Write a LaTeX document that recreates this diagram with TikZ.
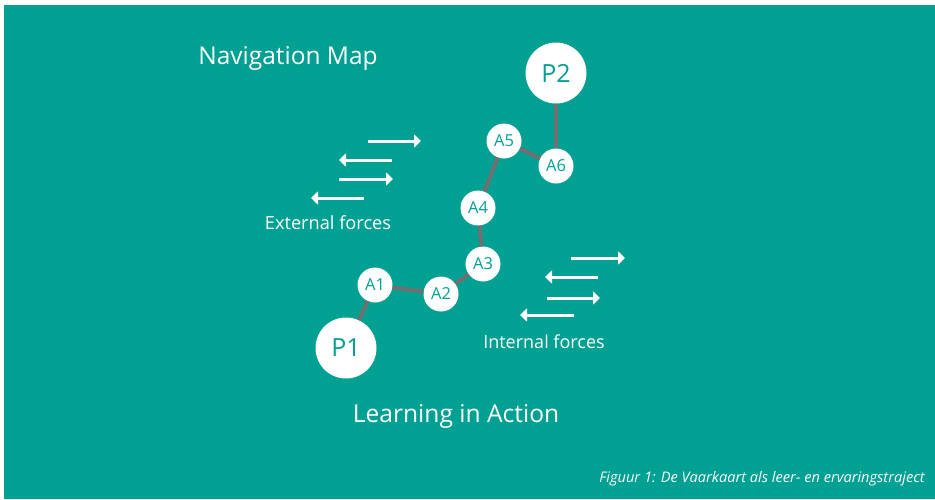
\documentclass[tikz,border=0pt]{standalone}
\usepackage{fontspec}
\setmainfont{Open Sans}
\usetikzlibrary{arrows.meta}
\definecolor{vaarteal}{RGB}{0,160,146}
\definecolor{routegray}{RGB}{112,112,112}

\begin{document}
\begin{tikzpicture}[x=1pt,y=-1pt]
\tikzstyle{every node}+=[inner sep=0pt,text=white]
\tikzstyle{port}=[circle,fill=white,text=vaarteal,minimum size=61pt,font=\fontsize{25}{28}\selectfont]
\tikzstyle{stop}=[circle,fill=white,text=vaarteal,minimum size=35pt,font=\fontsize{16.5}{19}\selectfont]
\tikzstyle{route}=[routegray,line width=4pt]
\tikzstyle{force}=[white,line width=3pt,-{Triangle[length=7pt,width=13pt]}]
\fill [white] (0,0) rectangle (935,499);
\fill [vaarteal] (4,5) rectangle (935,499);
\node (title) at (288,58) {\fontsize{24.5}{28}\selectfont Navigation Map};
\node [port] (p1) at (346,348) {P1};
\node [port] (p2) at (556,73) {P2};
\node [stop] (a1) at (375,285) {A1};
\node [stop] (a2) at (441,294) {A2};
\node [stop] (a3) at (483,264) {A3};
\node [stop] (a4) at (478,208) {A4};
\node [stop] (a5) at (504,141) {A5};
\node [stop] (a6) at (556,166) {A6};
\draw [route] (p1) -- (a1);
\draw [route] (a1) -- (a2);
\draw [route] (a2) -- (a3);
\draw [route] (a3) -- (a4);
\draw [route] (a4) -- (a5);
\draw [route] (a5) -- (a6);
\draw [route] (a6) -- (p2);
\coordinate (e1s) at (368,141); \coordinate (e1t) at (421,141);
\coordinate (e2s) at (392,160); \coordinate (e2t) at (339,160);
\coordinate (e3s) at (339,179); \coordinate (e3t) at (393,179);
\coordinate (e4s) at (364,198); \coordinate (e4t) at (311,198);
\draw [force] (e1s) -- (e1t);
\draw [force] (e2s) -- (e2t);
\draw [force] (e3s) -- (e3t);
\draw [force] (e4s) -- (e4t);
\node (ext) at (328,223) {\fontsize{18.2}{21}\selectfont External forces};
\coordinate (i1s) at (571,258); \coordinate (i1t) at (625,258);
\coordinate (i2s) at (598,277); \coordinate (i2t) at (545,277);
\coordinate (i3s) at (547,298); \coordinate (i3t) at (600,298);
\coordinate (i4s) at (574,315); \coordinate (i4t) at (520,315);
\draw [force] (i1s) -- (i1t);
\draw [force] (i2s) -- (i2t);
\draw [force] (i3s) -- (i3t);
\draw [force] (i4s) -- (i4t);
\node (int) at (544,342) {\fontsize{18}{21}\selectfont Internal forces};
\node (learn) at (456,416) {\fontsize{24.6}{28}\selectfont Learning in Action};
\node [anchor=east] (caption) at (925,479) {\fontsize{14.6}{17}\selectfont\itshape Figuur 1: De Vaarkaart als leer- en ervaringstraject};
\end{tikzpicture}
\end{document}
